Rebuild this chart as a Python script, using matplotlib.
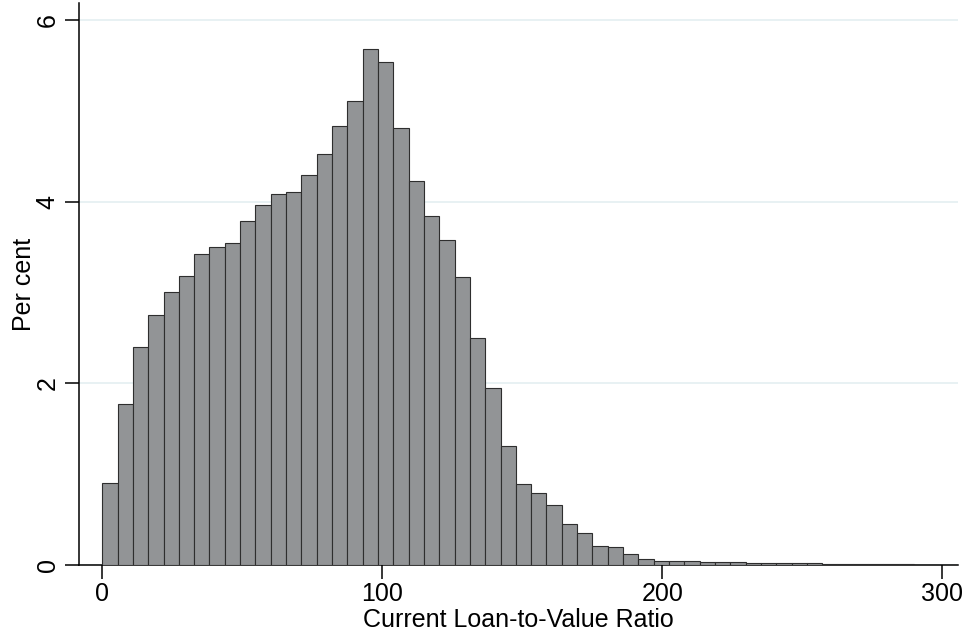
import numpy as np
import matplotlib.pyplot as plt

# Distribución del LTV actual (porcentaje por intervalo)
bin_width = 5.47
percent = [0.90, 1.77, 2.40, 2.75, 3.01, 3.18, 3.43, 3.50, 3.55, 3.79,
           3.97, 4.09, 4.11, 4.30, 4.53, 4.84, 5.11, 5.68, 5.54, 4.81,
           4.23, 3.85, 3.58, 3.17, 2.50, 1.95, 1.31, 0.89, 0.79, 0.66,
           0.45, 0.35, 0.21, 0.20, 0.12, 0.07, 0.045, 0.045, 0.04, 0.03,
           0.03, 0.03, 0.02, 0.02, 0.02, 0.018, 0.018, 0.015, 0.008, 0.007,
           0.006, 0.008, 0.006, 0.005, 0.004]
x_ticks = [0, 100, 200, 300]
y_ticks = [0, 2, 4, 6]

plt.rcParams['font.family'] = ['Liberation Sans', 'DejaVu Sans']

edges = np.arange(len(percent)) * bin_width

fig = plt.figure(figsize=(9.71, 6.32), dpi=100)
ax = fig.add_axes([0.0814, 0.106, 0.9052, 0.889])

ax.bar(edges, percent, width=bin_width, align='edge',
       color='#929496', edgecolor='#2e2e2e', linewidth=0.8, zorder=3)

ax.set_xlim(-8.3, 305.6)
ax.set_ylim(0, 6.19)
ax.set_xticks(x_ticks)
ax.set_yticks(y_ticks)
ax.yaxis.grid(True, color='#e8f1f3', linewidth=1.4, zorder=0)
ax.tick_params(axis='both', direction='out', length=10, width=1.1,
               labelsize=18, colors='black')
ax.tick_params(axis='x', pad=2)
ax.tick_params(axis='y', labelrotation=90, pad=4)
for lbl in ax.get_yticklabels():
    lbl.set_va('center')

for s in ['top', 'right']:
    ax.spines[s].set_visible(False)
for s in ['left', 'bottom']:
    ax.spines[s].set_linewidth(1.1)

ax.set_xlabel('Current Loan-to-Value Ratio', fontsize=18, labelpad=2)
ax.set_ylabel('Per cent', fontsize=18, labelpad=0)

fig.savefig('out.png', dpi=100, facecolor='white')
